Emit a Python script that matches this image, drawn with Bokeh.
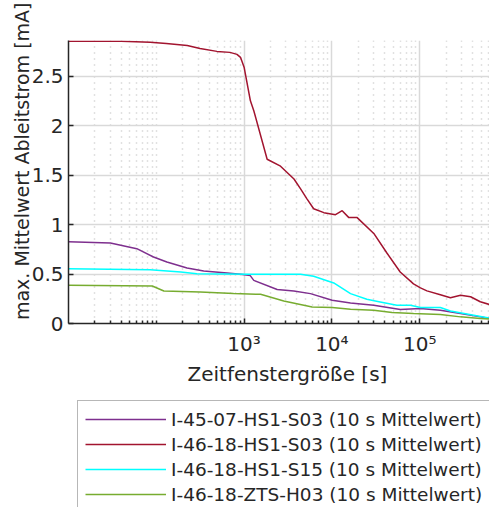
from bokeh.plotting import figure
from bokeh.layouts import column
from bokeh.models import Range1d, FixedTicker, Legend, LegendItem, Title
from bokeh.embed import file_html
from bokeh.resources import INLINE

# ---- data ----
x_purple = [10, 30, 60, 93, 132, 224, 347, 640, 912, 1175, 1290, 2380, 3680, 5700,
            10070, 16300, 30000, 60260, 102000, 172000, 292000, 490000, 750000]
y_purple = [0.827, 0.813, 0.756, 0.672, 0.621, 0.561, 0.530, 0.510, 0.497, 0.484, 0.436,
            0.343, 0.329, 0.302, 0.235, 0.208, 0.184, 0.141, 0.151, 0.134, 0.101, 0.067, 0.040]

x_red = [10, 40, 85, 130, 225, 315, 490, 690, 830, 910, 1000, 1180, 1290, 1830, 2600,
         3700, 4400, 5200, 6200, 8100, 11000, 13100, 15600, 19400, 30000, 42500, 60000,
         85000, 102000, 121000, 172000, 224000, 292000, 380000, 490000, 750000]
y_red = [2.853, 2.853, 2.843, 2.829, 2.81, 2.78, 2.75, 2.74, 2.72, 2.69, 2.59, 2.25, 2.15,
         1.66, 1.59, 1.46, 1.36, 1.26, 1.16, 1.12, 1.10, 1.14, 1.07, 1.07, 0.91, 0.71, 0.52,
         0.40, 0.36, 0.33, 0.29, 0.26, 0.285, 0.27, 0.22, 0.17]

x_cyan = [10, 85, 190, 290, 1175, 4400, 6200, 10500, 16300, 25000, 35500, 55000, 78500,
          102000, 172000, 224000, 413000, 750000]
y_cyan = [0.554, 0.544, 0.52, 0.504, 0.497, 0.497, 0.477, 0.41, 0.302, 0.245, 0.218, 0.184,
          0.184, 0.161, 0.161, 0.127, 0.084, 0.040]

x_green = [10, 90, 122, 316, 760, 1540, 2830, 5960, 10070, 16300, 30000, 48500, 85000,
           172000, 292000, 490000, 750000]
y_green = [0.386, 0.379, 0.329, 0.319, 0.302, 0.295, 0.228, 0.167, 0.161, 0.144, 0.134,
           0.111, 0.101, 0.091, 0.067, 0.050, 0.040]

labels = ["I-45-07-HS1-S03 (10 s Mittelwert)",
          "I-46-18-HS1-S03 (10 s Mittelwert)",
          "I-46-18-HS1-S15 (10 s Mittelwert)",
          "I-46-18-ZTS-H03 (10 s Mittelwert)"]
colors = ["#7E2F8E", "#A2142F", "#00FFFF", "#77AC30"]

x_major = [1e3, 1e4, 1e5]
x_major_labels = {1000: "10³", 10000: "10⁴", 100000: "10⁵"}
y_major = [0, 0.5, 1, 1.5, 2, 2.5]
y_major_labels = {0: "0", 1: "1", 2: "2"}

x_minor = []
for dec in [10, 100, 1000, 10000, 100000]:
    for m in range(1, 10):
        v = dec * m
        if 10 < v < 624000 and v not in x_major:
            x_minor.append(v)

FONT = "DejaVu Sans"
TXT = "#262626"

p = figure(width=489, height=390, x_axis_type="log",
           x_range=Range1d(10, 624000), y_range=Range1d(0, 2.86),
           output_backend="svg", toolbar_location=None,
           min_border_left=68, min_border_right=0, min_border_top=40,
           min_border_bottom=67)
p.outline_line_color = None
p.background_fill_color = "white"
p.border_fill_color = "white"

xt = FixedTicker(ticks=x_major, minor_ticks=x_minor)
yt = FixedTicker(ticks=y_major)
p.xaxis.ticker = xt
p.yaxis.ticker = yt
p.xaxis.major_label_overrides = x_major_labels
p.yaxis.major_label_overrides = y_major_labels

for ax in (p.xaxis, p.yaxis):
    ax.axis_line_color = "#262626"
    ax.axis_line_width = 1.5
    ax.major_tick_line_color = "#262626"
    ax.minor_tick_line_color = "#262626"
    ax.major_tick_line_width = 1.5
    ax.minor_tick_line_width = 1.5
    ax.major_tick_in = 5
    ax.major_tick_out = 0
    ax.minor_tick_in = 3
    ax.minor_tick_out = 0
    ax.major_label_text_font = FONT
    ax.major_label_text_font_size = "20px"
    ax.major_label_text_color = TXT

p.yaxis.minor_tick_line_color = None
p.xaxis.major_label_standoff = 8
p.yaxis.major_label_standoff = 5

p.add_layout(Title(text="max. Mittelwert Ableitstrom [mA]", align="right", offset=-38,
                   standoff=-8, text_font=FONT, text_font_size="19px",
                   text_font_style="normal", text_color=TXT), "left")
p.add_layout(Title(text="Zeitfenstergröße [s]", align="left", offset=119,
                   vertical_align="top", standoff=6, text_font=FONT,
                   text_font_size="20px", text_font_style="normal",
                   text_color=TXT), "below")

p.xgrid.ticker = xt
p.ygrid.ticker = yt
p.xgrid.grid_line_color = "#d9d9d9"
p.ygrid.grid_line_color = "#d9d9d9"
p.xgrid.grid_line_width = 1.5
p.ygrid.grid_line_width = 1.5
p.xgrid.minor_grid_line_color = "#c4c4c4"
p.xgrid.minor_grid_line_dash = "1 5"
p.xgrid.minor_grid_line_width = 1.5

series = [(x_purple, y_purple), (x_red, y_red), (x_cyan, y_cyan), (x_green, y_green)]
for (xs, ys), c in zip(series, colors):
    p.line(xs, ys, line_color=c, line_width=1.5)

# legend panel below the axes (lines drawn outside its visible range)
p2 = figure(width=489, height=117, output_backend="svg", toolbar_location=None,
            min_border=0, x_range=Range1d(0, 1), y_range=Range1d(0, 1))
p2.outline_line_color = None
p2.axis.visible = False
p2.grid.visible = False
items = []
for c, lab in zip(colors, labels):
    r = p2.line([5, 6], [5, 6], line_color=c, line_width=1.5)
    items.append(LegendItem(label=lab, renderers=[r]))

legend = Legend(items=items, location=(9, -6),
                label_text_font=FONT, label_text_font_size="18.5px",
                label_text_color=TXT,
                glyph_width=81, glyph_height=22, label_height=22, label_width=340,
                spacing=3, padding=7, label_standoff=5, margin=0,
                border_line_color="#707070", border_line_width=1,
                background_fill_color="white", background_fill_alpha=1)
p2.add_layout(legend, "center")

layout = column(p, p2, spacing=0)
open("out.html", "w").write(file_html(layout, INLINE))
